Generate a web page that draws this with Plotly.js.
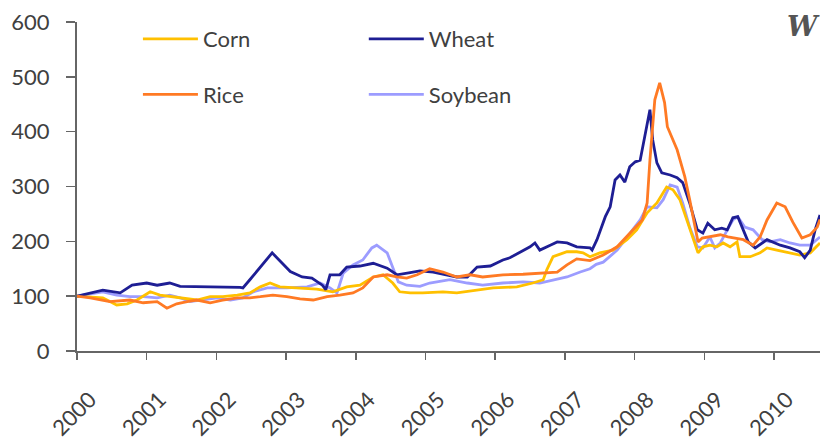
<!DOCTYPE html>
<html>
<head>
<meta charset="utf-8">
<script src="https://cdn.plot.ly/plotly-3.0.1.min.js"></script>
<style>html,body{margin:0;padding:0;background:#fff;}#chart{width:820px;height:443px;}</style>
</head>
<body>
<div id="chart"></div>
<script>
// Index values (2000 = 100), x in decimal years
const cornYears = [2000,2000.37,2000.57,2000.72,2000.86,2001.05,2001.19,2001.38,2001.52,2001.72,2001.91,2002.09,2002.30,2002.48,2002.63,2002.77,2002.91,2003.20,2003.44,2003.67,2003.87,2004.06,2004.25,2004.39,2004.53,2004.63,2004.78,2004.96,2005.25,2005.45,2005.74,2005.97,2006.31,2006.54,2006.69,2006.74,2006.83,2007.03,2007.17,2007.26,2007.36,2007.50,2007.69,2007.89,2008.03,2008.18,2008.32,2008.46,2008.55,2008.65,2008.75,2008.84,2008.91,2008.98,2009.08,2009.18,2009.27,2009.37,2009.47,2009.51,2009.66,2009.80,2009.90,2010.04,2010.23,2010.37,2010.52,2010.66];
const cornValues = [100,97,84,86,93,108,102,99,97,93,99,99,102,106,117,124,117,115,113,108,117,120,135,139,124,108,106,106,108,106,111,115,117,124,130,148,172,181,181,179,172,179,184,203,221,252,270,299,294,276,239,203,179,190,193,190,197,190,199,172,172,179,188,184,179,175,179,197];

const wheatYears = [2000,2000.37,2000.62,2000.79,2001.00,2001.15,2001.33,2001.48,2002.34,2002.38,2002.48,2002.80,2003.06,2003.23,2003.37,2003.52,2003.57,2003.63,2003.77,2003.87,2004.06,2004.25,2004.45,2004.59,2004.78,2004.92,2005.11,2005.31,2005.45,2005.60,2005.74,2005.93,2006.11,2006.21,2006.36,2006.50,2006.57,2006.64,2006.79,2006.89,2007.03,2007.17,2007.36,2007.39,2007.46,2007.58,2007.65,2007.72,2007.79,2007.86,2007.93,2008.01,2008.08,2008.15,2008.22,2008.26,2008.32,2008.39,2008.51,2008.61,2008.69,2008.79,2008.90,2008.98,2009.05,2009.15,2009.25,2009.33,2009.41,2009.48,2009.56,2009.63,2009.73,2009.90,2010.09,2010.23,2010.37,2010.44,2010.52,2010.59,2010.66];
const wheatValues = [100,111,106,120,124,120,124,118,116,115,130,179,145,135,133,120,112,139,139,153,155,160,151,139,143,146,144,139,135,135,153,155,166,170,181,190,197,184,193,199,197,190,188,184,203,245,263,312,321,308,336,345,348,391,440,385,343,325,321,316,307,270,221,215,233,221,224,221,243,245,221,199,188,203,193,188,181,170,184,221,248];

const riceYears = [2000,2000.19,2000.47,2000.76,2000.95,2001.15,2001.29,2001.43,2001.58,2001.72,2001.91,2002.09,2002.30,2002.48,2002.63,2002.81,2003.01,2003.20,2003.39,2003.59,2003.77,2003.96,2004.10,2004.25,2004.45,2004.59,2004.73,2004.88,2005.06,2005.25,2005.45,2005.64,2005.82,2006.11,2006.40,2006.69,2006.89,2007.03,2007.17,2007.36,2007.55,2007.75,2007.93,2008.11,2008.18,2008.22,2008.29,2008.36,2008.43,2008.47,2008.61,2008.72,2008.79,2008.87,2008.91,2008.97,2009.08,2009.23,2009.34,2009.41,2009.56,2009.70,2009.80,2009.90,2010.04,2010.16,2010.27,2010.40,2010.52,2010.62,2010.66];
const riceValues = [100,97,90,93,88,90,78,86,90,93,88,93,97,97,99,102,99,95,93,99,102,106,115,135,139,135,133,139,150,144,135,139,135,139,140,142,144,157,168,165,175,190,215,239,270,348,458,489,453,409,367,318,276,226,199,206,208,212,208,206,203,193,208,239,270,263,235,206,212,226,240];

const soybeanYears = [2000,2000.37,2000.57,2000.76,2000.95,2001.15,2001.33,2001.48,2001.62,2001.81,2002.01,2002.20,2002.38,2002.53,2002.73,2003.01,2003.30,2003.49,2003.63,2003.73,2003.82,2003.96,2004.10,2004.23,2004.30,2004.45,2004.53,2004.61,2004.73,2004.92,2005.06,2005.35,2005.60,2005.82,2006.11,2006.40,2006.64,2006.83,2007.03,2007.22,2007.36,2007.45,2007.55,2007.75,2007.93,2008.08,2008.18,2008.32,2008.41,2008.51,2008.61,2008.69,2008.79,2008.90,2008.98,2009.08,2009.15,2009.23,2009.33,2009.41,2009.48,2009.58,2009.70,2009.83,2009.94,2010.09,2010.23,2010.37,2010.52,2010.66];
const soybeanValues = [100,108,102,99,99,97,102,97,90,93,97,93,97,108,115,115,117,124,115,106,142,157,166,188,193,179,153,126,120,118,124,130,124,120,124,126,124,130,135,144,150,158,162,184,215,239,263,261,276,303,299,270,226,190,188,208,188,197,221,239,245,226,221,203,199,203,197,193,193,208];

const yearTicks = [2000,2001,2002,2003,2004,2005,2006,2007,2008,2009,2010];
const yearLabels = ['2000','2001','2002','2003','2004','2005','2006','2007','2008','2009','2010'];

const FONT = 'Lato, "Open Sans", sans-serif';
const lw = 2.8;

const corn = {name:'Corn', x:cornYears, y:cornValues, type:'scatter', mode:'lines', line:{color:'#FFC000', width:lw}, legend:'legend', legendgroup:'a', legendrank:1};
const rice = {name:'Rice', x:riceYears, y:riceValues, type:'scatter', mode:'lines', line:{color:'#FF7A24', width:lw}, legend:'legend', legendgroup:'b', legendrank:2};
const wheat = {name:'Wheat', x:wheatYears, y:wheatValues, type:'scatter', mode:'lines', line:{color:'#1E1E94', width:lw}, legend:'legend2', legendgroup:'c', legendrank:1};
const soy = {name:'Soybean', x:soybeanYears, y:soybeanValues, type:'scatter', mode:'lines', line:{color:'#9C9CFF', width:lw}, legend:'legend2', legendgroup:'d', legendrank:2};

const legendBase = {
  bgcolor:'rgba(0,0,0,0)', font:{family:FONT, size:22, color:'#404040'},
  orientation:'v', yanchor:'top', xanchor:'left', tracegroupgap:24, itemwidth:55, traceorder:'grouped'
};

const layout = {
  width:820, height:443,
  margin:{l:77, r:0, t:22, b:92},
  paper_bgcolor:'#ffffff', plot_bgcolor:'#ffffff',
  font:{family:FONT, size:22, color:'#404040'},
  showlegend:true,
  legend:Object.assign({}, legendBase, {x:0.082, y:1.012}),
  legend2:Object.assign({}, legendBase, {x:0.386, y:1.012}),
  xaxis:{
    range:[2000, 2010.66], tickmode:'array', tickvals:yearTicks, ticktext:yearLabels,
    tickangle:-45, ticks:'outside', ticklen:7, tickwidth:1.5, tickcolor:'#666',
    showline:true, linecolor:'#666', linewidth:2, showgrid:false, zeroline:false,
    tickfont:{family:FONT, size:22, color:'#404040'}, ticklabelstandoff:18, ticklabelshift:13
  },
  yaxis:{
    range:[0,600], dtick:100, tick0:0, ticks:'outside', ticklen:9, tickwidth:1.5, tickcolor:'#666',
    showline:true, linecolor:'#666', linewidth:2, showgrid:false, zeroline:false,
    tickfont:{family:FONT, size:22, color:'#404040'}, ticklabelstandoff:12
  },
  annotations:[
    {xref:'paper', yref:'paper', x:0.953, y:0.985, xanchor:'left', yanchor:'middle', showarrow:false,
     text:'<b><i>W</i></b>', font:{family:'"DejaVu Serif", "Liberation Serif", serif', size:27, color:'#555'}}
  ]
};

Plotly.newPlot('chart', [soy, corn, wheat, rice], layout, {displayModeBar:false, staticPlot:true});
</script>
</body>
</html>
